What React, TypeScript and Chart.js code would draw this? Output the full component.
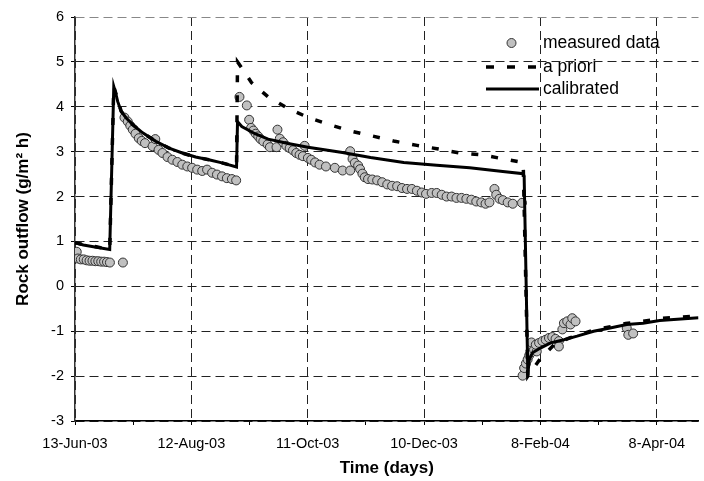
import React, { useEffect, useRef } from 'react';
import { Chart, registerables } from 'chart.js';

Chart.register(...registerables);

// ---- Axis tick data ----
const xTickDays = [0, 60, 120, 180, 240, 300];
const xTickLabels = ['13-Jun-03', '12-Aug-03', '11-Oct-03', '10-Dec-03', '8-Feb-04', '8-Apr-04'];
const xMinorDays = [30, 90, 150, 210, 270];

// ---- Series: measured data (days since 13-Jun-03, g/m2 h) ----
const measuredDays = [
  0.9, 1.5, 3, 4.5, 6, 7.5, 9, 10.5, 12, 13.5, 15, 16.5, 18, 24.7,
  25.5, 27.2, 28.5, 29.8, 31.2, 32.9, 34.4, 36.1, 40.0, 41.4, 43.1, 45.1, 47.7, 50.2, 52.8, 55.3,
  57.9, 60.4, 63.0, 65.6, 68.1, 70.7, 73.2, 75.8, 78.3, 80.9, 83.1,
  84.8, 88.6, 89.8, 90.8, 92.0, 93.2, 94.5, 95.7, 97.1, 99.3, 100.5, 103.9, 104.4, 105.6, 107.3,
  109.0, 110.7, 112.4, 114.1, 115.8, 117.5, 118.4, 120.1, 121.8, 123.8, 126.1, 129.4, 134.0, 138.0,
  141.9, 141.9, 143.1, 144.3, 146.0, 147.0, 148.2, 149.4, 151.1, 153.3, 155.8, 158.4, 161.0, 163.5,
  166.1, 168.6, 171.2, 173.7, 176.3, 178.8, 181.0, 183.9,
  186.5, 189.1, 191.6, 194.2, 196.7, 199.3, 201.8, 204.4, 206.9, 209.5, 211.7, 213.7, 216.3, 217.2,
  218.9, 220.6, 223.1, 225.7, 230.5,
  230.8, 231.6, 232.5, 233.4, 234.2, 235.4, 236.7, 238.1, 235.4, 237.6, 239.3, 241.0, 242.7, 244.4,
  246.1, 247.8, 249.5, 249.5, 251.3, 252.1, 253.8, 255.5, 256.4, 258.1, 284.5, 285.3, 287.8,
];
const measuredValues = [
  0.77, 0.62, 0.60, 0.60, 0.58, 0.57, 0.57, 0.56, 0.56, 0.55, 0.55, 0.54, 0.53, 0.53,
  3.76, 3.67, 3.58, 3.49, 3.40, 3.30, 3.24, 3.19, 3.12, 3.28, 3.04, 2.97, 2.88, 2.82, 2.77, 2.71,
  2.67, 2.64, 2.60, 2.57, 2.60, 2.53, 2.49, 2.45, 2.41, 2.39, 2.36,
  4.22, 4.03, 3.71, 3.53, 3.47, 3.40, 3.34, 3.28, 3.23, 3.16, 3.10, 3.10, 3.49, 3.29, 3.21,
  3.13, 3.08, 3.03, 2.97, 2.93, 2.90, 3.13, 2.86, 2.82, 2.76, 2.71, 2.67, 2.64, 2.58,
  3.01, 2.58, 2.84, 2.75, 2.69, 2.61, 2.51, 2.43, 2.39, 2.38, 2.36, 2.32, 2.27, 2.24,
  2.23, 2.19, 2.17, 2.17, 2.13, 2.09, 2.06, 2.08,
  2.08, 2.04, 2.00, 2.00, 1.97, 1.97, 1.95, 1.93, 1.89, 1.87, 1.84, 1.87, 2.17, 2.04,
  1.95, 1.92, 1.87, 1.84, 1.86,
  -1.99, -1.82, -1.72, -1.63, -1.54, -1.47, -1.41, -1.45, -1.25, -1.30, -1.26, -1.22, -1.19, -1.15,
  -1.13, -1.17, -1.22, -1.34, -0.96, -0.82, -0.78, -0.85, -0.71, -0.78, -0.93, -1.08, -1.05,
];

// ---- Series: a priori model ----
const aprioriDays = [
  0, 4.3, 11, 17.9, 20.0, 22.0, 23.8, 26.4, 29.8, 34.9, 41.7, 48.5, 55.3, 62.2, 69.0, 75.8, 83.3,
  83.8, 84.3, 91.0, 99.6, 109.9, 120.9, 132.9, 143.1, 154.2, 165.0, 176.3, 187.4, 198.3, 209.9, 220.7, 231.1,
  233.5, 239.8, 247, 255, 267, 284, 293, 303, 321.5,
];
const aprioriValues = [
  0.97, 0.93, 0.88, 0.82, 4.45, 4.16, 3.90, 3.75, 3.60, 3.42, 3.23, 3.08, 2.97, 2.88, 2.82, 2.75, 2.66,
  5.0, 4.97, 4.54, 4.22, 3.96, 3.75, 3.58, 3.45, 3.34, 3.23, 3.14, 3.06, 2.97, 2.93, 2.84, 2.76,
  -2.0, -1.62, -1.30, -1.15, -0.98, -0.83, -0.78, -0.71, -0.66,
];

// ---- Series: calibrated model ----
const calibratedDays = [
  0, 4.3, 11, 17.9, 20.0, 21.0, 22.0, 23.8, 26.4, 29.8, 34.9, 41.7, 48.5, 55.3, 62.2, 69.0, 75.8, 83.3,
  83.8, 86.0, 92.8, 99.6, 109.9, 120.1, 130.3, 137.9, 152.4, 169.5, 186.5, 203.5, 220.6, 231.1, 231.6,
  233.5, 234.2, 235.9, 240.2, 245.3, 252.1, 258.9, 267.4, 275.9, 284.5, 292.9, 301.5, 321.5,
];
const calibratedValues = [
  0.97, 0.92, 0.87, 0.82, 4.45, 4.30, 4.12, 3.90, 3.75, 3.60, 3.42, 3.23, 3.08, 2.97, 2.88, 2.82, 2.75, 2.66,
  3.67, 3.56, 3.40, 3.28, 3.18, 3.10, 3.03, 2.98, 2.87, 2.76, 2.70, 2.64, 2.56, 2.51, 2.45,
  -1.97, -1.63, -1.48, -1.37, -1.26, -1.19, -1.11, -1.00, -0.93, -0.85, -0.82, -0.76, -0.70,
];

const seriesNames = ['measured data', 'a priori', 'calibrated'];
const yTitle = 'Rock outflow (g/m\u00B2 h)';
const xTitle = 'Time (days)';

const FONT = '"Liberation Sans", Arial, Helvetica, sans-serif';

const toXY = (xs: number[], ys: number[]) => xs.map((x, i) => ({ x, y: ys[i] }));

const legendPlugin = {
  id: 'insideLegend',
  afterDraw(chart: any) {
    const ctx = chart.ctx as CanvasRenderingContext2D;
    ctx.save();
    const x0 = 486;
    const x1 = 539;
    const tx = 543;
    const rows = [43, 67, 89];
    ctx.beginPath();
    ctx.arc((x0 + x1) / 2 - 1, rows[0], 4.5, 0, Math.PI * 2);
    ctx.fillStyle = '#c0c0c0';
    ctx.fill();
    ctx.strokeStyle = '#333';
    ctx.lineWidth = 1;
    ctx.stroke();
    ctx.beginPath();
    ctx.setLineDash([8, 13]);
    ctx.lineWidth = 3.5;
    ctx.strokeStyle = '#000';
    ctx.moveTo(x0, rows[1]);
    ctx.lineTo(x1, rows[1]);
    ctx.stroke();
    ctx.beginPath();
    ctx.setLineDash([]);
    ctx.lineWidth = 3;
    ctx.moveTo(x0, rows[2]);
    ctx.lineTo(x1, rows[2]);
    ctx.stroke();
    ctx.fillStyle = '#000';
    ctx.font = '17.5px ' + FONT;
    ctx.textAlign = 'left';
    ctx.textBaseline = 'middle';
    seriesNames.forEach((n, i) => ctx.fillText(n, tx, rows[i]));
    ctx.restore();
  },
};

export default function App() {
  const canvasRef = useRef<HTMLCanvasElement | null>(null);

  useEffect(() => {
    const canvas = canvasRef.current;
    if (!canvas) return;
    const chart = new Chart(canvas, {
      type: 'scatter',
      data: {
        datasets: [
          {
            label: seriesNames[0],
            data: toXY(measuredDays, measuredValues),
            showLine: false,
            pointRadius: 4.5,
            pointBackgroundColor: '#c0c0c0',
            pointBorderColor: '#333',
            pointBorderWidth: 1,
            order: 3,
          },
          {
            label: seriesNames[1],
            data: toXY(aprioriDays, aprioriValues),
            showLine: true,
            pointRadius: 0,
            borderColor: '#000',
            borderWidth: 3.5,
            borderDash: [7, 13],
            tension: 0,
            order: 2,
          },
          {
            label: seriesNames[2],
            data: toXY(calibratedDays, calibratedValues),
            showLine: true,
            pointRadius: 0,
            borderColor: '#000',
            borderWidth: 3,
            tension: 0,
            order: 1,
          },
        ],
      },
      options: {
        responsive: false,
        animation: false,
        devicePixelRatio: 1,
        layout: { padding: { top: 17, left: 0, right: 0, bottom: 0 } },
        plugins: {
          legend: { display: false },
          tooltip: { enabled: false },
        },
        scales: {
          x: {
            type: 'linear',
            min: 0,
            max: 321.5,
            afterFit: (scale: any) => {
              scale.height = 60;
            },
            afterBuildTicks: (scale: any) => {
              scale.ticks = [...xTickDays, ...xMinorDays]
                .sort((a, b) => a - b)
                .map((v) => ({ value: v }));
            },
            ticks: {
              autoSkip: false,
              maxRotation: 0,
              padding: 10,
              color: '#000',
              font: { family: FONT, size: 14.5 },
              callback: (value: any) => {
                const i = xTickDays.indexOf(Number(value));
                return i >= 0 ? xTickLabels[i] : '';
              },
            },
            grid: {
              color: (c: any) =>
                c.tick && xTickDays.indexOf(c.tick.value) >= 0 ? '#222' : 'rgba(0,0,0,0)',
              tickColor: '#000',
              tickLength: 4,
              tickBorderDash: [],
              lineWidth: 1,
            },
            border: { display: true, color: '#000', width: 1.5, dash: [9, 5] },
            title: {
              display: true,
              text: xTitle,
              color: '#000',
              font: { family: FONT, size: 17, weight: 'bold' },
              padding: { top: 0, bottom: 2 },
            },
          },
          y: {
            type: 'linear',
            min: -3,
            max: 6,
            afterFit: (scale: any) => {
              scale.width = 75;
            },
            ticks: {
              stepSize: 1,
              padding: 7,
              color: '#000',
              font: { family: FONT, size: 14.5 },
            },
            grid: {
              color: (c: any) => (c.tick && c.tick.value === 6 ? '#888' : '#222'),
              tickColor: '#000',
              tickLength: 4,
              tickBorderDash: [],
              lineWidth: 1,
            },
            border: { display: true, color: '#333', width: 1.5, dash: [9, 5] },
            title: {
              display: true,
              text: yTitle,
              color: '#000',
              font: { family: FONT, size: 17, weight: 'bold' },
              padding: { top: 13, bottom: 0 },
            },
          },
        },
      },
      plugins: [legendPlugin],
    } as any);
    return () => chart.destroy();
  }, []);

  return (
    <div style={{ position: 'absolute', left: 0, top: 0, width: 704, height: 481, background: '#fff' }}>
      <canvas ref={canvasRef} width={704} height={481} style={{ display: 'block' }} />
    </div>
  );
}
